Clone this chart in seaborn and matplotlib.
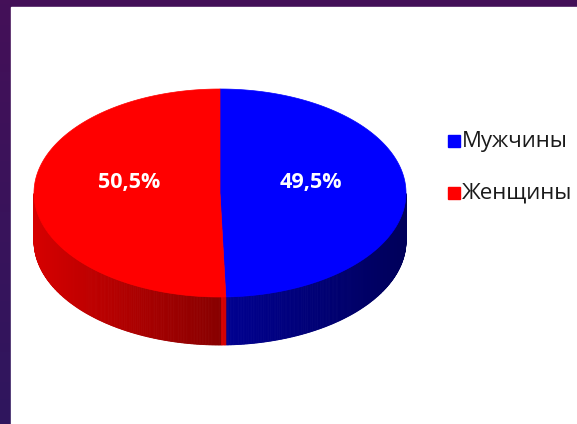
import numpy as np
import matplotlib.pyplot as plt
import matplotlib.colors as mcolors
from matplotlib.patches import Polygon, Rectangle
import seaborn as sns

sns.set_theme(style="white")
plt.rcParams['font.family'] = ['Open Sans', 'DejaVu Sans']

labels = ["Мужчины", "Женщины"]
values = [49.5, 50.5]
value_labels = ["49,5%", "50,5%"]
top_colors = ["#0000ff", "#ff0000"]
side_from = ["#000092", "#d60000"]   # colour at the front split / far edge
side_to = ["#00005a", "#880000"]

fig = plt.figure(figsize=(5.77, 4.24), dpi=100)
ax = fig.add_axes([0, 0, 1, 1])
ax.set_xlim(0, 577)
ax.set_ylim(424, 0)
ax.axis("off")

# purple slide background with white panel
bg = mcolors.LinearSegmentedColormap.from_list("bg", ["#441058", "#2f165e"])
ax.imshow(np.linspace(0, 1, 100).reshape(-1, 1), cmap=bg, aspect="auto",
          extent=[0, 577, 424, 0], zorder=0)
ax.add_patch(Rectangle((11, 7), 570, 420, color="white", zorder=1))

cx, cy, a, b, depth = 220, 193, 186, 104, 48


def pt(theta, dy=0):
    return cx + a * np.cos(theta), cy - b * np.sin(theta) + dy


# slice angles, start at the top, clockwise
fracs = np.array(values) / sum(values)
start = np.pi / 2
bounds = []
for f in fracs:
    end = start - 2 * np.pi * f
    bounds.append((start, end))
    start = end

# sides (only the front half, sin < 0)
for (t0, t1), c_a, c_b in zip(bounds, side_from, side_to):
    lo, hi = min(t0, t1), max(t0, t1)
    ts = np.linspace(lo, hi, 400)
    ts = ts[np.sin(ts) <= 0.001]
    if len(ts) < 2:
        continue
    cmap = mcolors.LinearSegmentedColormap.from_list("s", [c_a, c_b])
    for i in range(len(ts) - 1):
        x0, y0 = pt(ts[i])
        x1, y1 = pt(ts[i + 1])
        # red darkens towards the centre, blue darkens to the right
        if c_a == side_from[1]:
            k = (x0 - (cx - a)) / a
        else:
            k = (x0 - cx) / a
        k = min(max(k, 0), 1)
        ax.add_patch(Polygon([(x0, y0), (x1, y1), (x1, y1 + depth), (x0, y0 + depth)],
                             closed=True, facecolor=cmap(k), edgecolor=cmap(k),
                             linewidth=0.6, zorder=2))

# tops
for (t0, t1), col in zip(bounds, top_colors):
    ts = np.linspace(t0, t1, 300)
    xs, ys = pt(ts)
    poly = [(cx, cy)] + list(zip(xs, ys))
    ax.add_patch(Polygon(poly, closed=True, facecolor=col, edgecolor=col,
                         linewidth=0.5, zorder=3))

# value labels
for (t0, t1), txt in zip(bounds, value_labels):
    mid = (t0 + t1) / 2
    lx, ly = cx + 0.49 * a * np.cos(mid), cy - 0.1 * b
    ax.text(lx, ly, txt, color="white", fontsize=15.5, fontweight="bold",
            ha="center", va="center", zorder=4)

# legend
for i, (lab, col) in enumerate(zip(labels, top_colors)):
    y = 141 + i * 52
    ax.add_patch(Rectangle((448, y - 6), 12, 12, color=col, zorder=4))
    ax.text(462, y, lab, fontsize=16, color="#1a1a1a", ha="left", va="center", zorder=4)

fig.savefig("out.png", dpi=100)
